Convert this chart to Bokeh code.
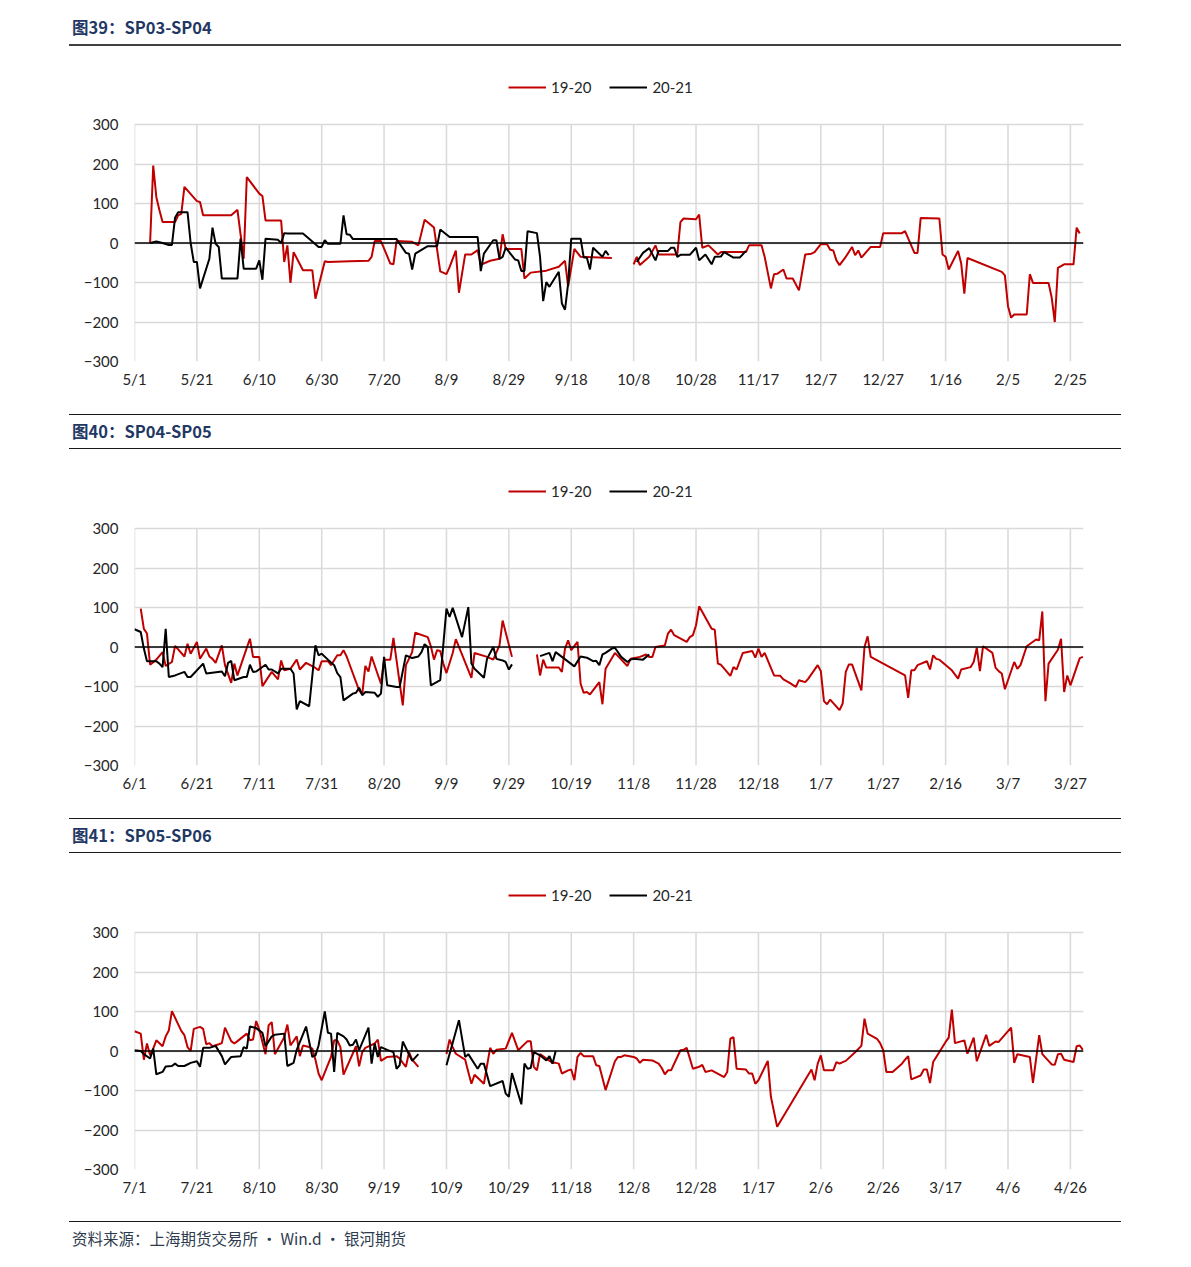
import numpy as np
from bokeh.plotting import figure
from bokeh.models import Div, Span, Legend, LegendItem, FixedTicker, Range1d, ColumnDataSource
from bokeh.layouts import column
from bokeh.embed import file_html
from bokeh.resources import INLINE

# ---------------- data (x = days since first tick date) ----------------
ticks_sp0304 = ["5/1", "5/21", "6/10", "6/30", "7/20", "8/9", "8/29", "9/18", "10/8", "10/28",
                "11/17", "12/7", "12/27", "1/16", "2/5", "2/25"]
ticks_sp0405 = ["6/1", "6/21", "7/11", "7/31", "8/20", "9/9", "9/29", "10/19", "11/8", "11/28",
                "12/18", "1/7", "1/27", "2/16", "3/7", "3/27"]
ticks_sp0506 = ["7/1", "7/21", "8/10", "8/30", "9/19", "10/9", "10/29", "11/18", "12/8", "12/28",
                "1/17", "2/6", "2/26", "3/17", "4/6", "4/26"]
series_names = ["19-20", "20-21"]
y_ticks = [-300, -200, -100, 0, 100, 200, 300]

sp0304_1920 = [(5, 0), (6, 196), (7, 116), (8, 83), (9, 53), (13, 53), (14, 70), (15, 74), (16, 142), (20, 106),
               (21, 104), (22, 70), (31, 70), (33, 84), (35, -40), (36, 167), (40, 125), (41, 119), (42, 57), (47, 57),
               (48, -48), (49, -6), (50, -101), (51, -23), (54, -69), (57, -69), (58, -141), (61, -46), (62, -48),
               (69, -46), (75, -45), (76, -35), (77, 5), (79, 5), (82, -52), (83, -54), (84, 5), (89, 3), (91, -6),
               (93, 59), (96, 39), (98, -72), (100, -79), (101, -61), (103, -19), (104, -126), (106, -29), (108, -29),
               (110, -18), (111, -55), (114, -45), (117, -40), (118, 22), (119, -15), (124, -15), (125, -90),
               (127, -75), (132, -70), (136, -60), (138, -45), (139, -110), (141, -15), (143, -35), (153, -38),
               (None, None),
               (160, -54), (161, -35), (162, -56), (165, -35), (167, -6), (168, -29), (174, -29), (175, 53), (176, 62),
               (180, 60), (181, 72), (182, -12), (184, -6), (187, -29), (188, -23), (196, -23), (197, -6), (201, -6),
               (202, -35), (204, -115), (205, -79), (206, -78), (208, -67), (209, -90), (211, -90), (213, -120),
               (215, -29), (217, -27), (218, -23), (220, -3), (222, -3), (223, -17), (224, -19), (225, -44),
               (226, -56), (228, -35), (230, -10), (231, -31), (232, -19), (233, -37), (236, -10), (239, -10),
               (240, 25), (246, 25), (247, 30), (250, -25), (251, -25), (252, 63), (258, 62), (259, -29), (260, -35),
               (261, -67), (264, -20), (265, -52), (266, -128), (267, -38), (278, -73), (279, -82), (280, -160),
               (281, -189), (282, -181), (286, -181), (287, -79), (288, -101), (293, -101), (294, -138), (295, -200),
               (296, -63), (298, -54), (301, -54), (302, 39), (303, 24)]
sp0304_2021 = [(5, 0), (7, 4), (9, 0), (11, -5), (12, -5), (13, 64), (14, 78), (17, 78), (18, 0), (19, -48), (20, -48),
               (21, -115), (24, -40), (25, 39), (26, -2), (27, -10), (28, -90), (33, -90), (34, 11), (35, -65),
               (39, -65), (40, -44), (41, -93), (42, 11), (46, 8), (47, 0), (48, 25), (49, 24), (54, 24), (57, 4),
               (59, -10), (60, -10), (61, 7), (62, -2), (66, -2), (67, 70), (68, 22), (69, 21), (70, 10), (84, 10),
               (85, -2), (87, -25), (88, -27), (89, -67), (90, -27), (94, -8), (97, -8), (98, 34), (101, 15),
               (110, 15), (111, -71), (112, -27), (115, 7), (116, 7), (117, -40), (118, -35), (119, -12), (122, -42),
               (123, -44), (124, -71), (125, -71), (126, 30), (129, 25), (130, -35), (131, -147), (132, -99),
               (133, -111), (136, -73), (137, -153), (138, -169), (139, -103), (140, 11), (143, 11), (144, -37),
               (145, -37), (146, -67), (147, -12), (150, -35), (151, -20), (152, -31),
               (None, None),
               (161, -48), (163, -25), (165, -13), (167, -44), (168, -20), (171, -20), (172, -12), (173, -12),
               (174, -35), (175, -30), (178, -30), (180, -12), (181, -44), (183, -29), (185, -54), (186, -35),
               (188, -34), (189, -23), (192, -37), (194, -37), (196, -20)]

sp0405_1920 = [(2, 97), (3, 46), (4, 34), (5, -45), (7, -32), (9, -13), (10, -48), (12, -38), (13, 3), (16, -24),
               (17, 8), (18, -17), (20, 13), (21, -30), (23, -4), (24, -24), (25, -30), (26, -40), (28, 4), (29, -46),
               (31, -91), (32, -42), (33, -72), (35, -25), (37, 21), (38, -25), (40, -25), (41, -99), (44, -63),
               (46, -82), (47, -34), (48, -59), (50, -55), (52, -32), (53, -57), (55, -40), (58, -53), (59, -59),
               (60, -36), (62, -36), (63, -46), (65, -21), (66, -21), (67, -8), (68, -24), (72, -110), (73, -120),
               (74, -48), (75, -62), (76, -24), (79, -93), (80, -32), (82, -32), (83, 23), (86, -148), (87, -46),
               (89, -13), (90, 36), (94, 25), (95, 2), (96, -32), (97, -8), (98, -10), (99, -42), (100, -66),
               (102, -15), (103, 20), (108, -78), (109, -15), (113, -25), (115, -32), (117, 4), (118, 67), (121, -25),
               (None, None),
               (129, -19), (130, -72), (131, -32), (132, -52), (136, -52), (137, -63), (138, -4), (139, 17),
               (140, -8), (142, 13), (143, -93), (144, -116), (145, -114), (146, -120), (149, -89), (150, -145),
               (151, -55), (154, -15), (158, -48), (159, -30), (162, -25), (164, -19), (165, -25), (166, -25),
               (167, 0), (170, 4), (171, 34), (172, 44), (173, 30), (177, 13), (178, 25), (179, 30), (180, 55),
               (181, 103), (185, 46), (186, 44), (187, -42), (188, -45), (191, -73), (192, -51), (193, -57),
               (195, -15), (198, -10), (199, -27), (200, -4), (201, -25), (202, -15), (205, -72), (207, -73),
               (208, -82), (210, -91), (212, -101), (213, -84), (215, -89), (216, -80), (219, -46), (220, -61),
               (221, -137), (222, -145), (223, -133), (226, -160), (227, -143), (228, -63), (229, -44), (230, -44),
               (233, -110), (234, 0), (235, 27), (236, -25), (247, -72), (248, -129), (249, -59), (250, -59),
               (251, -46), (254, -36), (255, -57), (256, -21), (257, -30), (258, -32), (262, -59), (264, -80),
               (265, -57), (268, -51), (269, -38), (270, -2), (271, -61), (272, 2), (275, -15), (276, -52),
               (277, -61), (278, -67), (279, -107), (282, -38), (283, -55), (284, -46), (286, 2), (289, 19),
               (290, 17), (291, 90), (292, -137), (293, -42), (296, -7), (297, 21), (298, -114), (299, -72),
               (300, -97), (303, -28), (304, -25)]
sp0405_2021 = [(0, 45), (2, 38), (3, -4), (4, -36), (7, -36), (8, -42), (9, -51), (10, 46), (11, -76), (13, -72),
               (16, -63), (17, -76), (18, -76), (22, -42), (23, -67), (28, -62), (29, -74), (30, -40), (31, -35),
               (32, -84), (35, -76), (36, -76), (37, -45), (38, -63), (39, -62), (42, -45), (43, -57), (44, -57),
               (46, -67), (47, -55), (50, -55), (51, -67), (52, -158), (53, -137), (56, -150), (58, 4), (59, -21),
               (60, -17), (62, -32), (64, -46), (65, -66), (66, -76), (67, -135), (70, -118), (71, -116), (72, -103),
               (73, -122), (74, -114), (77, -116), (78, -126), (79, -118), (80, -25), (81, -97), (84, -101),
               (85, -101), (87, -21), (89, -28), (91, -24), (92, -13), (93, 7), (94, 0), (95, -97), (98, -84),
               (100, 97), (101, 76), (102, 99), (105, 25), (107, 101), (108, -42), (109, -55), (112, -78),
               (113, -30), (115, 0), (116, -30), (118, -34), (119, -38), (120, -57), (121, -44),
               (None, None),
               (130, -23), (133, -15), (134, -36), (135, -13), (137, -25), (141, -49), (143, -24), (145, -27),
               (147, -36), (148, -35), (149, -46), (150, -19), (151, -15), (153, -4), (154, -2), (156, -25),
               (158, -38), (159, -32), (160, -30), (163, -32), (165, -19)]

sp0506_1920 = [(0, 50), (2, 44), (3, -22), (4, 19), (5, -11), (6, 6), (7, 27), (9, 12), (10, 37), (11, 52), (12, 101),
               (15, 51), (16, 40), (17, 10), (18, 0), (19, 56), (21, 61), (22, 56), (23, 17), (24, 20), (25, 12),
               (27, 17), (28, 20), (29, 59), (31, 25), (32, 19), (33, 25), (36, 44), (37, 27), (38, 29), (39, 76),
               (40, 54), (42, -8), (43, 65), (44, 73), (45, -8), (48, 35), (49, 67), (50, 14), (52, 37), (53, -13),
               (54, 14), (56, 10), (57, 6), (58, -22), (59, -57), (60, -74), (63, -15), (64, 27), (65, 27), (66, 10),
               (67, -60), (71, 12), (72, -39), (73, -3), (74, 8), (77, 19), (78, 29), (79, -25), (81, -15), (84, -13),
               (85, -19), (86, -30), (87, -40), (88, -3), (89, -22), (91, -40),
               (None, None),
               (100, -8), (101, 29), (102, 10), (103, -7), (106, -22), (107, -53), (108, -83), (109, -60),
               (112, -83), (114, 8), (115, -7), (116, 3), (119, 6), (121, 46), (123, 2), (126, 25), (127, 25),
               (128, -40), (129, -49), (130, -8), (134, -30), (135, -30), (136, -32), (137, -57), (139, -49),
               (140, -47), (141, -74), (142, -15), (143, -5), (144, -13), (147, -13), (148, -36), (149, -38),
               (151, -99), (154, -26), (155, -15), (156, -15), (157, -11), (160, -15), (161, -19), (162, -30),
               (163, -22), (166, -24), (168, -32), (169, -43), (170, -59), (171, -49), (172, -49), (175, 2), (176, 3),
               (177, 8), (179, -45), (181, -40), (182, -35), (183, -53), (185, -49), (189, -66), (190, -53),
               (191, 31), (192, 35), (193, -45), (196, -47), (197, -57), (198, -57), (199, -83), (200, -74),
               (203, -25), (204, -116), (206, -192), (217, -47), (218, -74), (219, -32), (220, -11), (221, -49),
               (224, -49), (225, -28), (226, -32), (227, -28), (228, -25), (231, -3), (233, 13), (234, 82), (235, 44),
               (238, 31), (239, 20), (240, 2), (241, -53), (243, -53), (246, -32), (247, -22), (248, -13), (249, -72),
               (252, -62), (253, -47), (254, -47), (255, -81), (256, -28), (260, 23), (261, 34), (262, 105),
               (263, 20), (266, 27), (267, -7), (269, 34), (270, -26), (273, 41), (274, 13), (276, 24), (277, 23),
               (281, 59), (282, -30), (283, -8), (287, -15), (288, -81), (290, 40), (291, -8), (294, -34),
               (295, -35), (296, -8), (297, -7), (298, -22), (301, -28), (302, 12), (303, 14), (304, 3)]
sp0506_2021 = [(0, 2), (2, 0), (3, -8), (5, -19), (6, 6), (7, -59), (9, -53), (10, -39), (12, -38), (13, -32),
               (14, -38), (16, -38), (18, -30), (20, -26), (21, -40), (22, 8), (24, 8), (26, 13), (28, -13), (29, -34),
               (31, -15), (34, -13), (35, 10), (36, 6), (37, 62), (39, 58), (41, 46), (42, 12), (44, 37), (45, 41),
               (48, 44), (49, -38), (51, -30), (52, 3), (55, 62), (57, -15), (58, -11), (59, 14), (61, 100), (62, 46),
               (63, 44), (64, -53), (65, 46), (67, 37), (68, 29), (69, 14), (70, 16), (71, 29), (72, 2), (75, 59),
               (76, -32), (77, 19), (78, -15), (79, 10), (81, 3), (83, -3), (84, -45), (85, -36), (86, 24), (89, -25),
               (91, -8),
               (None, None),
               (100, -36), (104, 78), (106, -15), (107, -8), (110, -45), (111, -32), (112, -32), (114, -89),
               (118, -76), (119, -108), (120, -116), (121, -56), (124, -135), (125, -32), (126, -45), (127, -43),
               (128, -3), (130, -11), (132, -24), (133, -13), (134, -32), (135, 0)]

# ---------------- styling ----------------
RED = "#C00000"
BLACK = "#000000"
GRID = "#D9D9D9"
TXT = "#262626"
FONT = "Lato"
W = 1128
PLOT_H = 237          # pixel height of the -300..300 band
HEAD_ROOM = 60        # frame room above the 300 line for the legend
Y_TOP = 300 + HEAD_ROOM * 600 / PLOT_H


def split(pairs):
    xs = [np.nan if a is None else a for a, _ in pairs]
    ys = [np.nan if b is None else b for _, b in pairs]
    return np.array(xs, dtype=float), np.array(ys, dtype=float)


def make_panel(ticks, red_pairs, black_pairs):
    p = figure(width=W, height=367, output_backend="svg", toolbar_location=None,
               x_range=Range1d(0, 304.2), y_range=Range1d(-300, Y_TOP),
               min_border_left=134, min_border_right=45, min_border_top=18, min_border_bottom=52,
               outline_line_color=None, background_fill_color="white", border_fill_color="white")
    xt = list(range(0, 20 * len(ticks), 20))
    p.xaxis.ticker = FixedTicker(ticks=xt)
    p.xaxis.major_label_overrides = {x: t for x, t in zip(xt, ticks)}
    p.yaxis.ticker = FixedTicker(ticks=y_ticks)
    p.ygrid.ticker = FixedTicker(ticks=y_ticks)
    p.ygrid.grid_line_color = GRID
    p.ygrid.grid_line_width = 1.5
    p.xgrid.grid_line_color = None
    # vertical grid lines limited to the -300..300 band
    p.segment(x0=xt, y0=[y_ticks[0]] * len(xt), x1=xt, y1=[y_ticks[-1]] * len(xt),
              line_color=GRID, line_width=1.5, level="underlay")
    for ax in (p.xaxis, p.yaxis):
        ax.axis_line_color = None
        ax.major_tick_line_color = None
        ax.minor_tick_line_color = None
        ax.major_tick_in = 0
        ax.major_tick_out = 0
        ax.major_label_text_font = FONT
        ax.major_label_text_font_size = "15px"
        ax.major_label_text_color = TXT
    p.xaxis.major_label_standoff = 8
    p.yaxis.major_label_standoff = 16

    p.add_layout(Span(location=0, dimension="width", line_color="#000000", line_width=1.5))

    rx, ry = split(red_pairs)
    bx, by = split(black_pairs)
    r1 = p.line(x="x", y="y", source=ColumnDataSource(dict(x=rx, y=ry)), line_color=RED, line_width=2)
    r2 = p.line(x="x", y="y", source=ColumnDataSource(dict(x=bx, y=by)), line_color=BLACK, line_width=2)

    leg = Legend(items=[LegendItem(label=series_names[0], renderers=[r1]),
                        LegendItem(label=series_names[1], renderers=[r2])],
                 orientation="horizontal", location=(374, 264),
                 glyph_width=38, glyph_height=20, label_standoff=5, spacing=18,
                 padding=0, margin=0, border_line_color=None, background_fill_alpha=0,
                 label_text_font=FONT, label_text_font_size="15px", label_text_color=TXT)
    p.add_layout(leg, "center")
    return p


def header(text, first=False):
    if first:
        lines = ('<div style="position:absolute;left:69px;top:44px;width:1052px;height:2px;'
                 'background:#404040;"></div>')
        top = 16
        h = 46
    else:
        lines = ('<div style="position:absolute;left:69px;top:1px;width:1052px;height:1px;background:#1a1a1a;"></div>'
                 '<div style="position:absolute;left:69px;top:35px;width:1052px;height:1px;background:#1a1a1a;"></div>')
        top = 7
        h = 37
    html = ('<div style="position:relative;width:%dpx;height:%dpx;">%s'
            '<div style="position:absolute;left:72px;top:%dpx;font-family:\'Noto Sans CJK SC\';'
            'font-weight:bold;font-size:16.5px;line-height:22px;color:#1F3864;white-space:nowrap;">%s</div></div>'
            % (W, h, lines, top, text))
    return Div(text=html, width=W, height=h, margin=0)


footer_html = ('<div style="position:relative;width:%dpx;height:30px;">'
               '<div style="position:absolute;left:69px;top:0px;width:1052px;height:1px;background:#1a1a1a;"></div>'
               '<div style="position:absolute;left:72px;top:6px;font-family:\'Noto Sans CJK SC\';font-size:15.5px;'
               'line-height:22px;color:#2E3B4E;white-space:nowrap;">资料来源：上海期货交易所 · Win.d · 银河期货</div></div>' % W)

layout = column(
    header("图39：SP03-SP04", first=True),
    make_panel(ticks_sp0304, sp0304_1920, sp0304_2021),
    header("图40：SP04-SP05"),
    make_panel(ticks_sp0405, sp0405_1920, sp0405_2021),
    header("图41：SP05-SP06"),
    make_panel(ticks_sp0506, sp0506_1920, sp0506_2021),
    Div(text=footer_html, width=W, height=30, margin=0),
    spacing=0,
)

open("out.html", "w").write(file_html(layout, INLINE))
